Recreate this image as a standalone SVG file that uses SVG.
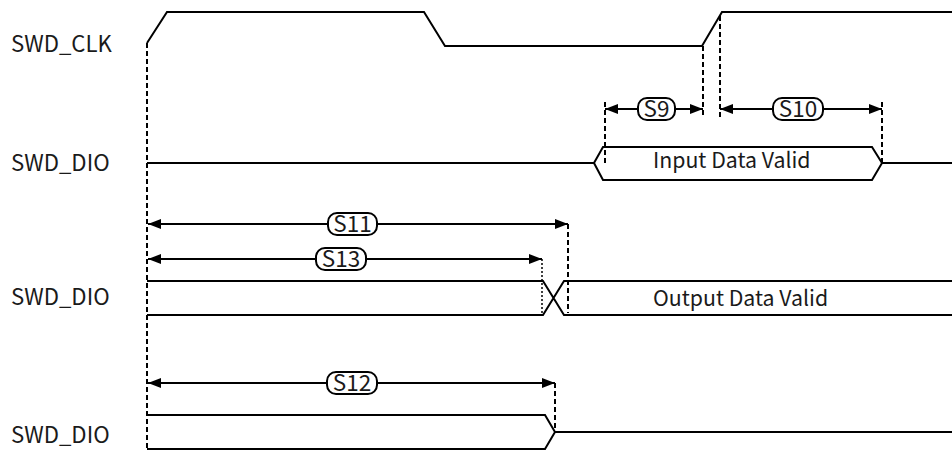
<svg xmlns="http://www.w3.org/2000/svg" width="952" height="451" viewBox="0 0 952 451">
  <defs>
    <marker id="ah" viewBox="0 0 13 10" refX="13" refY="5" markerWidth="13" markerHeight="10" markerUnits="userSpaceOnUse" orient="auto-start-reverse">
      <path d="M0,0 L13,5 L0,10 z" fill="#000"/>
    </marker>
    <style>
      .txt { font-family: "Noto Sans CJK SC", "Noto Sans", sans-serif; font-size: 21.3px; fill: #1a1a1a; }
      .sig { font-size: 22.2px; }
      .wave { fill: none; stroke: #000; stroke-width: 2; stroke-linejoin: miter; }
      .dash { fill: none; stroke: #000; stroke-width: 2; stroke-dasharray: 5 3; }
      .dot { fill: none; stroke: #000; stroke-width: 1.5; stroke-dasharray: 2 2; }
      .arr { fill: none; stroke: #000; stroke-width: 2; marker-start: url(#ah); marker-end: url(#ah); }
      .tag { fill: #fff; stroke: #000; stroke-width: 2; }
      .tagt { font-family: "Noto Sans CJK SC", "Noto Sans", sans-serif; font-size: 22.5px; fill: #1a1a1a; text-anchor: middle; }
    </style>
  </defs>
  <rect x="0" y="0" width="952" height="451" fill="#fff"/>

  <g id="swd_clk">
    <text class="txt sig" x="11" y="52">SWD_CLK</text>
    <path class="wave" d="M147,43 L167,12 L424,12 L445,46 L702,46 L722,12 L952,12"/>
  </g>

  <g id="swd_dio_in">
    <text class="txt sig" x="11" y="171">SWD_DIO</text>
    <path class="wave" d="M147,163 L594,163 L603,147 L872,147 L882,163 L952,163 M594,163 L603,180 L872,180 L882,163"/>
    <text class="txt" x="653" y="168">Input Data Valid</text>
  </g>

  <g id="swd_dio_out">
    <text class="txt sig" x="11" y="305">SWD_DIO</text>
    <path class="wave" d="M147,281 L543,281 L564,315 L952,315 M147,315 L543,315 L564,281 L952,281"/>
    <text class="txt" x="653" y="306">Output Data Valid</text>
  </g>

  <g id="swd_dio_hiz">
    <text class="txt sig" x="11" y="443">SWD_DIO</text>
    <path class="wave" d="M147,415 L545,415 L555,432 L952,432 M147,449 L545,449 L555,432"/>
  </g>

  <g id="connectors">
    <line class="dash" x1="147" y1="43" x2="147" y2="451"/>
    <line class="dash" x1="605" y1="102" x2="605" y2="163"/>
    <line class="dash" x1="703" y1="46" x2="703" y2="118"/>
    <line class="dash" x1="720" y1="16" x2="720" y2="118"/>
    <line class="dash" x1="882" y1="102" x2="882" y2="163"/>
    <line class="dash" x1="568" y1="224" x2="568" y2="313"/>
    <line class="dot" x1="542" y1="259" x2="542" y2="316"/>
    <line class="dash" x1="555" y1="383" x2="555" y2="432"/>

    <line class="arr" x1="605" y1="109" x2="703" y2="109"/>
    <line class="arr" x1="720" y1="109" x2="882" y2="109"/>
    <line class="arr" x1="148" y1="224" x2="568" y2="224"/>
    <line class="arr" x1="148" y1="259" x2="542" y2="259"/>
    <line class="arr" x1="148" y1="383" x2="555" y2="383"/>
  </g>

  <g id="tag_s9">
    <rect class="tag" x="638" y="98" width="37" height="22" rx="9"/>
    <text class="tagt" x="656.5" y="116.8">S9</text>
  </g>
  <g id="tag_s10">
    <rect class="tag" x="773" y="98" width="50" height="22" rx="9"/>
    <text class="tagt" x="798" y="116.8">S10</text>
  </g>
  <g id="tag_s11">
    <rect class="tag" x="328" y="213" width="49" height="22" rx="9"/>
    <text class="tagt" x="352.5" y="231.8">S11</text>
  </g>
  <g id="tag_s13">
    <rect class="tag" x="316" y="248" width="50" height="22" rx="9"/>
    <text class="tagt" x="341" y="266.8">S13</text>
  </g>
  <g id="tag_s12">
    <rect class="tag" x="327" y="372" width="50" height="22" rx="9"/>
    <text class="tagt" x="352" y="390.8">S12</text>
  </g>
</svg>
